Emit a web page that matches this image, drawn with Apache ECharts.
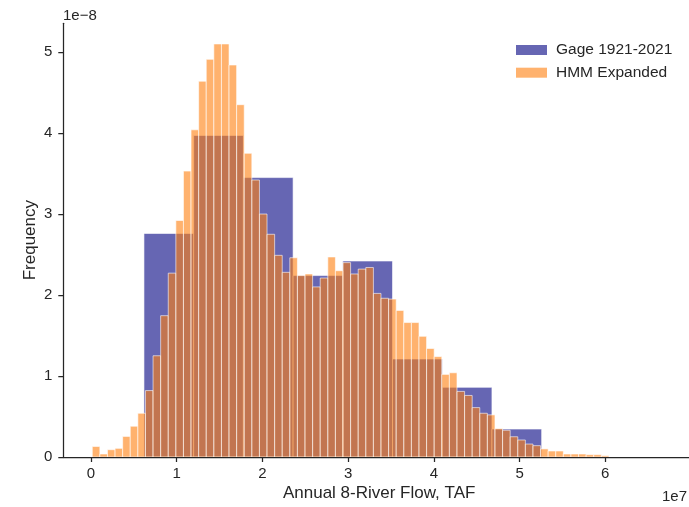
<!DOCTYPE html>
<html>
<head>
<meta charset="utf-8">
<script src="https://cdn.jsdelivr.net/npm/echarts@6/dist/echarts.min.js"></script>
<style>
  html, body { margin: 0; padding: 0; background: #ffffff; }
  #chart { width: 689px; height: 507px; }
</style>
</head>
<body>
<div id="chart"></div>
<script>
// ---- Data (x in units of 1e7 TAF, y in units of 1e-8) ----
const seriesNames = ['Gage 1921-2021', 'HMM Expanded'];

// Gage 1921-2021 histogram: bin edges and frequency densities
const gageEdges = [0.618, 1.198, 1.778, 2.358, 2.938, 3.518, 4.098, 4.678, 5.258];
const gageFreq  = [2.76, 3.97, 3.45, 2.24, 2.42, 1.21, 0.86, 0.345];

// HMM Expanded histogram: range and frequency densities of equal-width bins
const hmmRange = [0.015, 6.043];
const hmmFreq = [
  0.13, 0.037, 0.09, 0.107, 0.254, 0.38, 0.54, 0.82, 1.25, 1.745,
  2.27, 2.92, 3.53, 4.04, 4.64, 4.91, 5.10, 5.10, 4.84, 4.35,
  3.75, 3.42, 3.00, 2.75, 2.49, 2.28, 2.46, 2.24, 2.26, 2.10,
  2.21, 2.47, 2.30, 2.40, 2.26, 2.32, 2.34, 2.02, 1.96, 1.95,
  1.81, 1.66, 1.66, 1.49, 1.34, 1.24, 1.02, 1.04, 0.81, 0.76,
  0.61, 0.54, 0.52, 0.35, 0.33, 0.25, 0.21, 0.16, 0.14, 0.10,
  0.074, 0.074, 0.037, 0.037, 0.037, 0.029, 0.029, 0.016
];

const xTicks = [0, 1, 2, 3, 4, 5, 6];
const yTicks = [0, 1, 2, 3, 4, 5];

// ---- Build histogram items [x0, x1, height] ----
const gageData = gageFreq.map((v, i) => [gageEdges[i], gageEdges[i + 1], v]);
const hmmWidth = (hmmRange[1] - hmmRange[0]) / hmmFreq.length;
const hmmData = hmmFreq.map((v, i) => [hmmRange[0] + i * hmmWidth, hmmRange[0] + (i + 1) * hmmWidth, v]);

const FONT = '"Liberation Sans", Arial, "DejaVu Sans", sans-serif';
const INK = '#262626';
const GAGE_COLOR = 'rgb(0,0,128)';
const HMM_COLOR = 'rgb(255,127,14)';

function makeRender(fill) {
  return function (params, api) {
    const x0 = api.value(0), x1 = api.value(1), h = api.value(2);
    const pTop = api.coord([x0, h]);
    const pBot = api.coord([x1, 0]);
    return {
      type: 'rect',
      shape: { x: pTop[0], y: pTop[1], width: pBot[0] - pTop[0], height: pBot[1] - pTop[1] },
      style: { fill: fill, stroke: '#ffffff', lineWidth: 1, opacity: 0.6 }
    };
  };
}

const chart = echarts.init(document.getElementById('chart'), null, { renderer: 'canvas' });

chart.setOption({
  animation: false,
  backgroundColor: '#ffffff',
  textStyle: { fontFamily: FONT, color: INK },
  grid: { left: 63.3, right: 0, top: 23.3, bottom: 46.7, containLabel: false },
  xAxis: {
    type: 'value',
    min: -0.323,
    max: 6.977,
    z: 10,
    name: 'Annual 8-River Flow, TAF',
    nameLocation: 'middle',
    nameGap: 28,
    nameMoveOverlap: false,
    nameTextStyle: { fontSize: 17, color: INK, fontFamily: FONT, padding: [0, 0, 0, 6] },
    axisLine: { show: true, onZero: false, lineStyle: { color: INK, width: 1.25 } },
    axisTick: { show: true, length: 5, inside: false, customValues: xTicks, lineStyle: { color: INK, width: 1.25 } },
    axisLabel: { show: true, customValues: xTicks, fontSize: 15, color: INK, fontFamily: FONT, margin: 9,
      formatter: v => String(v) },
    splitLine: { show: false }
  },
  yAxis: {
    type: 'value',
    position: 'left',
    min: 0,
    max: 5.355,
    z: 10,
    name: 'Frequency',
    nameLocation: 'middle',
    nameGap: 24,
    nameMoveOverlap: false,
    nameTextStyle: { fontSize: 17, color: INK, fontFamily: FONT },
    axisLine: { show: true, onZero: false, lineStyle: { color: INK, width: 1.25 } },
    axisTick: { show: true, length: 5, inside: false, customValues: yTicks, lineStyle: { color: INK, width: 1.25 } },
    axisLabel: { show: true, customValues: yTicks, fontSize: 15, color: INK, fontFamily: FONT, margin: 11,
      formatter: v => String(v) },
    splitLine: { show: false }
  },
  legend: {
    orient: 'vertical',
    left: 511,
    top: 37,
    itemWidth: 31,
    itemHeight: 10,
    itemGap: 6.7,
    icon: 'rect',
    textStyle: { fontSize: 15.5, lineHeight: 16, color: INK, fontFamily: FONT, padding: [0, 0, 0, 4] },
    data: [
      { name: seriesNames[0], itemStyle: { color: 'rgba(0,0,128,0.6)', borderWidth: 0 } },
      { name: seriesNames[1], itemStyle: { color: 'rgba(255,127,14,0.6)', borderWidth: 0 } }
    ]
  },
  graphic: [
    { type: 'text', left: 63, top: 8, style: { text: '1e\u22128', fontSize: 15, fill: INK, fontFamily: FONT } },
    { type: 'text', right: 2, top: 489, style: { text: '1e7', fontSize: 15, fill: INK, fontFamily: FONT } }
  ],
  series: [
    {
      name: seriesNames[0],
      type: 'custom',
      renderItem: makeRender(GAGE_COLOR),
      itemStyle: { color: 'rgba(0,0,128,0.6)' },
      encode: { x: [0, 1], y: 2 },
      data: gageData,
      z: 2
    },
    {
      name: seriesNames[1],
      type: 'custom',
      renderItem: makeRender(HMM_COLOR),
      itemStyle: { color: 'rgba(255,127,14,0.6)' },
      encode: { x: [0, 1], y: 2 },
      data: hmmData,
      z: 3
    }
  ]
});
</script>
</body>
</html>
